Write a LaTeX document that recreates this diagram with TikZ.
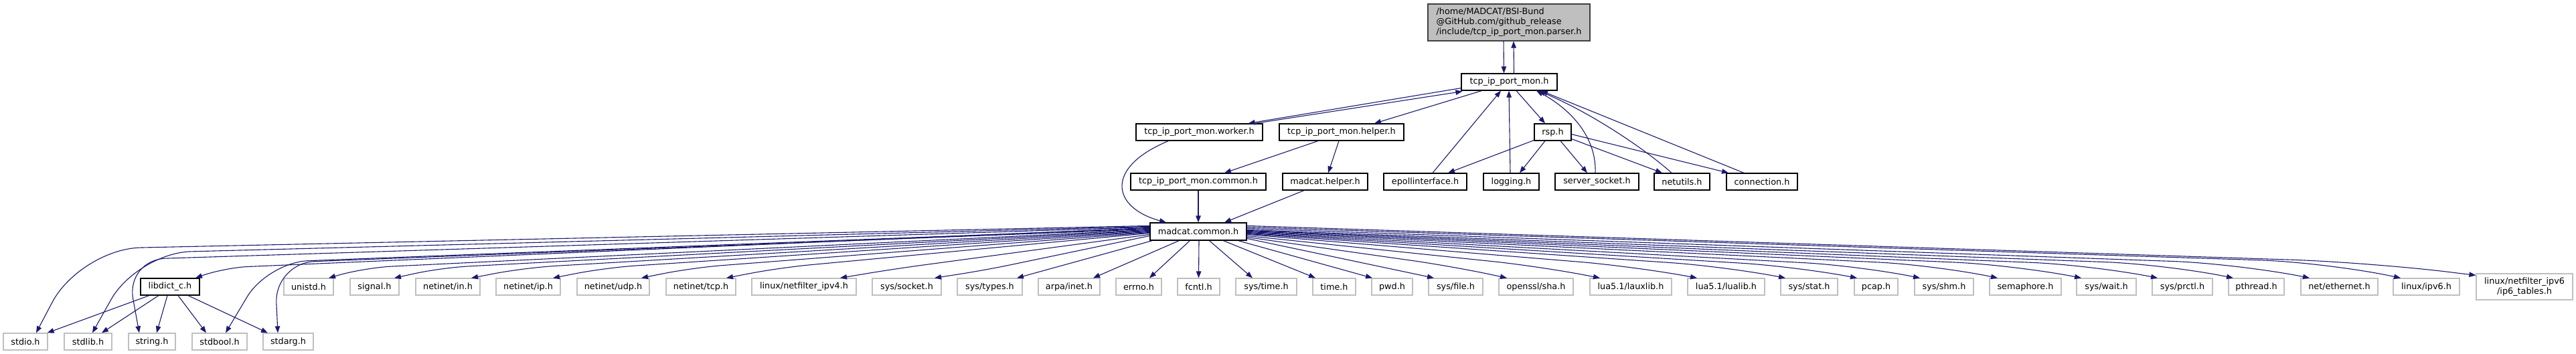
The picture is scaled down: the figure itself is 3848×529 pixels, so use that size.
\documentclass[tikz,border=0pt]{standalone}
\usepackage{fontspec}
\setmainfont{DejaVu Sans}
\usetikzlibrary{arrows.meta,calc}
\definecolor{eblue}{HTML}{191970}
\definecolor{ugray}{HTML}{BFBFBF}
\definecolor{rootfill}{HTML}{BFBFBF}
\begin{document}
\begin{tikzpicture}[x=1pt,y=-1pt,
  font=\fontsize{12.8}{15}\selectfont,
  doc/.style={draw=black, line width=1.2pt, fill=white, inner sep=0pt, minimum height=25pt},
  sysh/.style={draw=ugray, line width=1.2pt, fill=white, inner sep=0pt, minimum height=25pt},
  rootbox/.style={draw=black!75, line width=1.2pt, fill=rootfill, inner sep=0pt, minimum height=55pt, align=left},
  edge/.style={draw=eblue, line width=1.1pt, -{Triangle[length=10pt,width=7.5pt]}}]
\useasboundingbox (0,0) rectangle (3848,529);
% row 0
\node[rootbox, minimum width=242pt] (root) at (2254,33.5) {/home/MADCAT/BSI-Bund\\@GitHub.com/github\_release\\/include/tcp\_ip\_port\_mon.parser.h};
% row 1
\node[doc, minimum width=143pt] (tcp) at (2254.5,122.5) {tcp\_ip\_port\_mon.h};
% row 2
\node[doc, minimum width=189pt] (worker) at (1791.5,197.5) {tcp\_ip\_port\_mon.worker.h};
\node[doc, minimum width=186pt] (helper) at (2004,197.5) {tcp\_ip\_port\_mon.helper.h};
\node[doc, minimum width=55pt] (rsp) at (2319.5,197.5) {rsp.h};
% row 3
\node[doc, minimum width=202pt] (tcommon) at (1790,271.5) {tcp\_ip\_port\_mon.common.h};
\node[doc, minimum width=127pt] (mhelper) at (1979.5,271.5) {madcat.helper.h};
\node[doc, minimum width=124pt] (epoll) at (2129,271.5) {epollinterface.h};
\node[doc, minimum width=83pt] (logging) at (2257.5,271.5) {logging.h};
\node[doc, minimum width=125pt] (ssock) at (2385.5,271.5) {server\_socket.h};
\node[doc, minimum width=83pt] (netutils) at (2512.5,271.5) {netutils.h};
\node[doc, minimum width=106pt] (conn) at (2632,271.5) {connection.h};
% row 4
\node[doc, minimum width=144pt, minimum height=26pt] (mc) at (1790,346) {madcat.common.h};
% row 5
\node[doc, minimum width=88pt] (libdict) at (254,428.5) {libdict\_c.h};
\node[sysh, minimum width=74pt] (unistd) at (461,428.5) {unistd.h};
\node[sysh, minimum width=73pt] (signal) at (559.5,428.5) {signal.h};
\node[sysh, minimum width=96pt] (netin) at (669,428.5) {netinet/in.h};
\node[sysh, minimum width=96pt] (netip) at (789,428.5) {netinet/ip.h};
\node[sysh, minimum width=108pt] (netudp) at (916,428.5) {netinet/udp.h};
\node[sysh, minimum width=104pt] (nettcp) at (1047,428.5) {netinet/tcp.h};
\node[sysh, minimum width=156pt] (nf4) at (1201,428.5) {linux/netfilter\_ipv4.h};
\node[sysh, minimum width=103pt] (syssocket) at (1354.5,428.5) {sys/socket.h};
\node[sysh, minimum width=97pt] (systypes) at (1478.5,428.5) {sys/types.h};
\node[sysh, minimum width=92pt] (arpa) at (1597,428.5) {arpa/inet.h};
\node[sysh, minimum width=68pt] (errno) at (1701,428.5) {errno.h};
\node[sysh, minimum width=63pt] (fcntl) at (1790.5,428.5) {fcntl.h};
\node[sysh, minimum width=91pt] (systime) at (1891.5,428.5) {sys/time.h};
\node[sysh, minimum width=64pt] (time) at (1993,428.5) {time.h};
\node[sysh, minimum width=61pt] (pwd) at (2079.5,428.5) {pwd.h};
\node[sysh, minimum width=81pt] (sysfile) at (2174.5,428.5) {sys/file.h};
\node[sysh, minimum width=111pt] (sha) at (2294.5,428.5) {openssl/sha.h};
\node[sysh, minimum width=122pt] (lauxlib) at (2436,428.5) {lua5.1/lauxlib.h};
\node[sysh, minimum width=115pt] (lualib) at (2578.5,428.5) {lua5.1/lualib.h};
\node[sysh, minimum width=85pt] (sysstat) at (2702.5,428.5) {sys/stat.h};
\node[sysh, minimum width=65pt] (pcap) at (2802.5,428.5) {pcap.h};
\node[sysh, minimum width=88pt] (sysshm) at (2904,428.5) {sys/shm.h};
\node[sysh, minimum width=107pt] (sem) at (3025.5,428.5) {semaphore.h};
\node[sysh, minimum width=89pt] (syswait) at (3146.5,428.5) {sys/wait.h};
\node[sysh, minimum width=90pt] (sysprctl) at (3260,428.5) {sys/prctl.h};
\node[sysh, minimum width=83pt] (pthread) at (3370.5,428.5) {pthread.h};
\node[sysh, minimum width=115pt] (neteth) at (3494.5,428.5) {net/ethernet.h};
\node[sysh, minimum width=99pt] (ipv6) at (3624.5,428.5) {linux/ipv6.h};
\node[sysh, minimum width=144pt, minimum height=39pt, align=center] (ip6t) at (3771,428.5) {linux/netfilter\_ipv6\\/ip6\_tables.h};
% row 6
\node[sysh, minimum width=66pt] (stdio) at (38,510.5) {stdio.h};
\node[sysh, minimum width=71pt] (stdlib) at (131.5,510.5) {stdlib.h};
\node[sysh, minimum width=70pt] (string) at (227,510.5) {string.h};
\node[sysh, minimum width=82pt] (stdbool) at (328,510.5) {stdbool.h};
\node[sysh, minimum width=75pt] (stdarg) at (430.5,510.5) {stdarg.h};

% upper edges
\draw[edge] ($(root.south)+(-8,0)$) -- ($(tcp.north)+(-8,0)$);
\draw[edge] ($(tcp.north)+(7,0)$) -- ($(root.south)+(7,0)$);
\draw[edge] ($(tcp.south west)+(0,-4)$) -- ($(worker.north east)+(-22,0)$);
\draw[edge] ($(worker.north east)+(-12,0)$) -- ($(tcp.south west)+(2,1)$);
\draw[edge] ($(tcp.south west)+(31,0)$) -- ($(helper.north)+(49,0)$);
\draw[edge] ($(helper.south)+(-35,0)$) -- ($(tcommon.north)+(39,0)$);
\draw[edge] ($(helper.south)+(-4,0)$) -- ($(mhelper.north)+(4.5,0)$);
\draw[edge] ($(worker.south)+(-46,0)$) .. controls (1650,250) and (1660,310) .. ($(mc.north)+(-48,0)$);
\draw[edge] (tcommon.south) -- (mc.north);
\draw[edge] ($(mhelper.south)+(-31.5,0)$) -- ($(mc.north)+(39,0)$);
\draw[edge] ($(tcp.south)+(10.5,0)$) -- ($(rsp.north)+(-11.5,0)$);
\draw[edge] ($(epoll.north)+(11,0)$) -- ($(tcp.south)+(-12.5,0)$);
\draw[edge] ($(logging.north)+(-1.5,0)$) -- ($(tcp.south)+(-0.5,0)$);
\draw[edge] ($(ssock.north)+(-2.5,0)$) .. controls (2385,200) and (2340,160) .. ($(tcp.south)+(40.5,0)$);
\draw[edge] ($(netutils.north)+(-15.5,0)$) .. controls (2460,225) and (2380,170) .. ($(tcp.south)+(43.5,0)$);
\draw[edge] ($(conn.north)+(-27,0)$) -- ($(tcp.south)+(47.5,0)$);
\draw[edge] ($(rsp.south west)+(0,-1)$) -- ($(epoll.north)+(34,0)$);
\draw[edge] ($(rsp.south)+(-11.5,0)$) -- ($(logging.north)+(12.5,0)$);
\draw[edge] ($(rsp.south)+(11.5,0)$) -- ($(ssock.north)+(-14.5,0)$);
\draw[edge] ($(rsp.south east)+(0,-3)$) -- ($(netutils.north)+(-29.5,0)$);
\draw[edge] ($(rsp.south east)+(0,-10)$) -- ($(conn.north)+(-50,0)$);

% libdict edges
\draw[edge] ($(libdict.south)+(-31,0)$) -- ($(stdio.north east)+(-1,0)$);
\draw[edge] ($(libdict.south)+(-17,0)$) -- ($(stdlib.north)+(20.5,0)$);
\draw[edge] ($(libdict.south)+(-4,0)$) -- ($(string.north)+(7,0)$);
\draw[edge] ($(libdict.south)+(12,0)$) -- ($(stdbool.north)+(-20,0)$);
\draw[edge] ($(libdict.south)+(27,0)$) -- ($(stdarg.north)+(-30.5,0)$);

% madcat.common.h fan, left side
\foreach \t/\o/\bx/\by/\r/\sy in {stdio/16/120/372/90/338, stdlib/6.5/205/378/80/339, string/-19/188/388/60/340, libdict/38/335/400/35/341, stdbool/9/400/392/60/342, stdarg/-15.5/410/393/60/343, unistd/30/545/400/40/344, signal/29.5/660/400/40/345, netin/35/785/400/45/346, netip/37/905/400/45/347, netudp/42/1035/400/45/348, nettcp/38/1165/400/45/349, nf4/54/1335/402/40/351, syssocket/41.5/1470/404/40/353}
  \draw[edge, rounded corners=\r pt] ($(mc.north west)+(0,\sy-333)$) -- (\bx,\by) -- ($(\t.north)+(\o,0)$);
% straight ones from the bottom
\draw[edge] ($(mc.south west)+(4,0)$) -- ($(systypes.north)+(40.5,0)$);
\draw[edge] ($(mc.south west)+(44,0)$) -- ($(arpa.north)+(36,0)$);
\draw[edge] ($(mc.south west)+(60,0)$) -- ($(errno.north)+(16,0)$);
\draw[edge] ($(mc.south)+(1,0)$) -- (fcntl.north);
\draw[edge] ($(mc.south west)+(89,0)$) -- ($(systime.north)+(-20.5,0)$);
\draw[edge] ($(mc.south west)+(110,0)$) -- ($(time.north)+(-28,0)$);
\draw[edge] ($(mc.south west)+(132,0)$) -- ($(pwd.north)+(-29.5,0)$);
\draw[edge] ($(mc.north east)+(0,24)$) -- ($(sysfile.north)+(-32.5,0)$);
% right side
\foreach \t/\o/\bx/\by/\r/\sy in {sha/-43.5/2170/398/60/355, lauxlib/-46/2300/398/70/353, lualib/-43.5/2440/398/80/351, sysstat/-35.5/2575/398/80/350, pcap/-28.5/2680/398/80/349, sysshm/-36/2775/397/80/348, sem/-41.5/2890/396/85/347, syswait/-37.5/3010/396/90/346, sysprctl/-37/3125/396/90/345, pthread/-34.5/3235/395/90/344, neteth/-44.5/3345/394/100/342, ipv6/-38.5/3475/392/100/340}
  \draw[edge, rounded corners=\r pt] ($(mc.north east)+(0,\sy-333)$) -- (\bx,\by) -- ($(\t.north)+(\o,0)$);
\draw[edge, rounded corners=120pt] ($(mc.north east)+(0,5)$) -- (3540,392) -- ($(ip6t.north west)+(0,3)$);
\end{tikzpicture}
\end{document}
